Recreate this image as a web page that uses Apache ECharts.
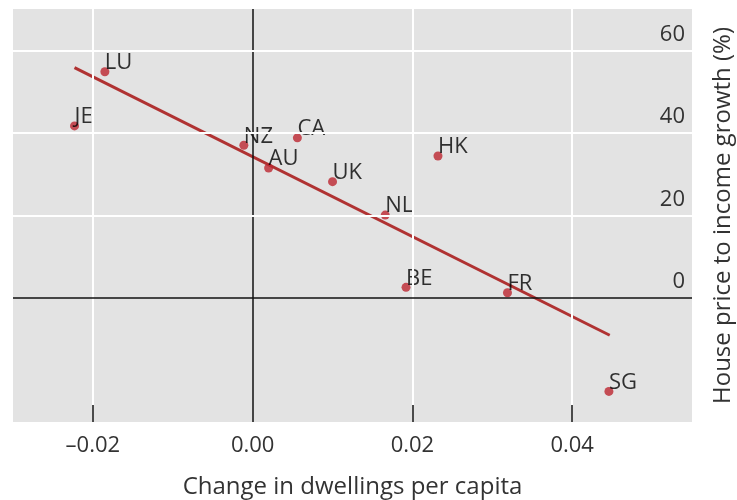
<!DOCTYPE html>
<html>
<head>
<meta charset="utf-8">
<script src="https://cdn.jsdelivr.net/npm/echarts@6/dist/echarts.min.js"></script>
<style>
  html, body { margin: 0; padding: 0; background: #fff; }
  #container { width: 737px; height: 500px; }
</style>
</head>
<body>
<div id="container"></div>
<script>
var countries = ['LU', 'JE', 'NZ', 'CA', 'AU', 'UK', 'HK', 'NL', 'BE', 'FR', 'SG'];
var dwellings = [-0.0185, -0.0223, -0.0011, 0.0056, 0.0020, 0.0100, 0.0232, 0.0166, 0.0192, 0.0319, 0.0446];
var priceGrowth = [54.8, 41.7, 37.0, 38.8, 31.5, 28.2, 34.4, 20.1, 2.6, 1.3, -22.6];
// fitted line end points
var fitX = [-0.0223, 0.0447];
var fitY = [55.8, -9.0];

var xTicks = [-0.02, 0, 0.02, 0.04];
var yTicks = [0, 20, 40, 60];

var font = '"Open Sans", "Noto Sans", sans-serif';

var points = dwellings.map(function (x, i) {
  return { value: [x, priceGrowth[i]], name: countries[i] };
});
var fitLine = fitX.map(function (x, i) { return [x, fitY[i]]; });

var grid = [];
xTicks.forEach(function (v) {
  grid.push({ xAxis: v, lineStyle: { type: 'solid', color: v === 0 ? '#111' : '#fff', width: v === 0 ? 1.5 : 2 } });
});
yTicks.forEach(function (v) {
  grid.push({ yAxis: v, lineStyle: { type: 'solid', color: v === 0 ? '#111' : '#fff', width: v === 0 ? 1.5 : 2 } });
});

var dom = document.getElementById('container');
var myChart = echarts.init(dom);
var option = {
  animation: false,
  grid: {
    left: 13, top: 9, right: 45, bottom: 78,
    outerBoundsMode: 'none',
    containLabel: false,
    show: true, backgroundColor: '#e3e3e3', borderWidth: 0
  },
  xAxis: {
    type: 'value',
    z: 10,
    min: -0.03,
    max: 0.055,
    name: 'Change in dwellings per capita',
    nameLocation: 'middle',
    nameGap: 53,
    nameTextStyle: { fontFamily: font, fontSize: 24, color: '#333' },
    axisLine: { show: true, onZero: false, lineStyle: { color: 'rgba(0,0,0,0)' } },
    splitLine: { show: false },
    axisTick: {
      show: true, inside: true, length: 17,
      customValues: [-0.02, 0.02, 0.04],
      lineStyle: { color: '#111', width: 1.5 }
    },
    axisLabel: {
      customValues: xTicks,
      margin: 13,
      fontFamily: font, fontSize: 22, color: '#333',
      formatter: function (v) {
        return (v < 0 ? '\u2013' : '') + Math.abs(v).toFixed(2);
      }
    }
  },
  yAxis: {
    type: 'value',
    z: 10,
    position: 'right',
    min: -30,
    max: 70,
    name: 'House price to income growth (%)',
    nameLocation: 'middle',
    nameRotate: 90,
    nameGap: 19,
    nameTextStyle: { fontFamily: font, fontSize: 24, color: '#333' },
    axisLine: { show: false, onZero: false },
    axisTick: { show: false },
    splitLine: { show: false },
    axisLabel: {
      inside: true,
      customValues: yTicks,
      margin: 7,
      align: 'right',
      verticalAlign: 'bottom',
      lineHeight: 32,
      fontFamily: font, fontSize: 22, color: '#333'
    }
  },
  series: [
    {
      type: 'line',
      data: [],
      z: 1,
      silent: true,
      markLine: {
        silent: true,
        symbol: 'none',
        label: { show: false },
        animation: false,
        data: grid
      }
    },
    {
      type: 'line',
      data: fitLine,
      z: 3,
      showSymbol: false,
      lineStyle: { color: '#b03232', width: 3 }
    },
    {
      type: 'scatter',
      data: points,
      z: 4,
      symbolSize: 9,
      itemStyle: { color: '#bb2530' },
      label: {
        show: true,
        position: [4.5, 4.5],
        align: 'left',
        verticalAlign: 'middle',
        offset: [0, -9],
        formatter: function (p) { return p.name; },
        fontFamily: font, fontSize: 22, color: '#000'
      }
    }
  ]
};
myChart.setOption(option, true);
</script>
</body>
</html>
